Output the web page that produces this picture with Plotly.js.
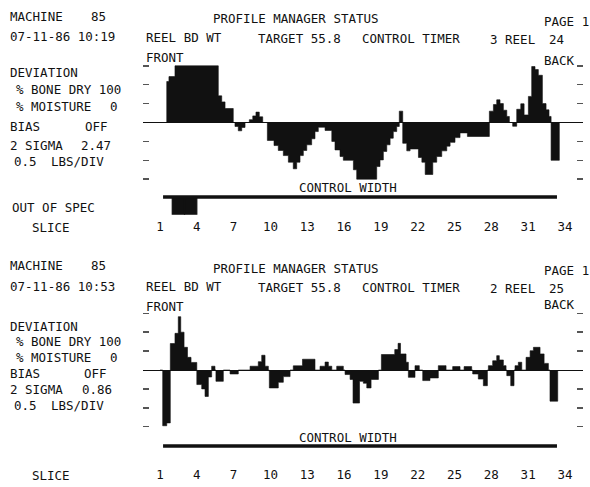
<!DOCTYPE html>
<html><head><meta charset="utf-8">
<script src="https://cdn.plot.ly/plotly-3.0.1.min.js"></script>
<style>html,body{margin:0;padding:0;background:#fff}#chart{width:590px;height:487px}</style>
</head><body><div id="chart"></div><script>
// ---- data (slice positions, deviation in LBS) ----
const topSlices = [1.00,1.55,1.73,2.22,5.75,6.03,6.30,6.97,7.11,7.38,7.66,7.93,8.28,8.56,8.82,9.09,9.37,9.75,10.29,10.64,11.05,11.46,11.86,12.14,12.41,12.68,12.96,13.36,13.63,13.90,14.45,15.00,15.26,15.67,15.94,16.76,17.03,18.66,18.93,19.20,19.48,19.75,20.01,20.29,20.50,20.78,21.11,21.38,22.06,22.34,22.61,23.23,23.55,23.96,24.37,24.64,25.04,25.45,26.05,27.84,28.17,28.44,28.71,28.98,29.26,29.47,29.74,30.07,30.40,30.67,31.02,31.29,31.56,31.83,32.16,32.46,32.70,32.87,33.54];
const topDeviation = [0,1.085,1.215,1.5,0.705,0.545,0.37,0,-0.105,-0.22,-0.13,0,0.075,0.175,0.275,0.15,0,-0.475,-0.61,-0.74,-0.875,-1.05,-1.225,-1.05,-0.875,-0.74,-0.59,-0.43,-0.24,-0.125,-0.21,-0.5,-0.725,-0.9,-1.0,-1.25,-1.5,-1.165,-0.99,-0.765,-0.59,-0.415,-0.24,-0.105,0.3,-0.55,-0.75,-0.7,-0.925,-1.05,-1.375,-1.05,-0.9,-0.75,-0.625,-0.525,-0.4,-0.275,-0.37,0.3,0.475,0.6,0.5,0.325,0.16,0,-0.1,0.35,0.495,0.2,0.69,1.48,1.4,1.25,0.5,0.335,0.16,-1.0,0];
const bottomSlices = [1.00,1.22,1.55,1.84,2.22,2.49,2.69,2.96,3.24,3.53,4.00,4.40,4.67,4.94,5.21,5.48,5.56,6.16,6.71,7.38,8.34,9.01,9.29,9.56,9.83,9.91,10.64,11.05,11.60,11.86,12.61,13.63,14.04,14.45,14.72,15.00,15.40,15.94,16.08,16.49,16.73,17.26,17.57,17.85,18.20,18.80,19.04,20.13,20.40,20.60,21.05,21.24,21.78,22.13,22.41,23.00,23.68,24.31,24.85,25.45,25.78,26.40,26.48,26.94,27.35,27.68,27.76,28.11,28.44,28.65,28.98,29.20,29.26,29.58,29.85,29.93,30.20,30.48,30.83,31.16,31.43,31.97,32.30,32.65,32.78,33.41];
const bottomDeviation = [0,-1.475,-1.4,0.7,0.97,1.41,1.0,0.6,0.335,0.2,-0.385,-0.5,-0.7,-0.185,0.1,0,-0.3,0,-0.105,0,0.1,0.22,0.39,0.1,0,-0.475,-0.325,-0.175,0,0.11,0.285,0,0.1,0.21,0.1,0,0.1,0,-0.12,-0.25,-0.875,-0.3,-0.35,-0.475,-0.25,0,0.41,0.54,0.705,0.425,0.205,-0.195,0.115,0,-0.28,-0.21,0.115,0,0.09,0,0.09,0,-0.105,-0.24,-0.415,0,0.115,0.245,0.38,0.265,0.115,0,-0.15,-0.415,0,0.115,0.205,0,0.335,0.51,0.6,0.425,0.175,0,-0.825,0];
const tickSlices = [1,4,7,10,13,16,19,22,25,28,31,34];
const tickLabels = ["1","4","7","10","13","16","19","22","25","28","31","34"];
const divTicks = [-1.5,-1,-0.5,0.5,1,1.5];
const controlWidth = [1.25, 33.35];
const outOfSpecSlices = [2, 3];
const topInfo = {time:"07-11-86 10:19", reel:"3 REEL", reelNo:"24", sigma:"2.47"};
const bottomInfo = {time:"07-11-86 10:53", reel:"2 REEL", reelNo:"25", sigma:"0.86"};

const W = 590, H = 487;
const FONT = "DejaVu Sans Mono";
const INK = "#111";
const px = v => v / W, py = v => 1 - v / H;
const XR = [-0.385, 35.47];
const XD = [px(143), px(583)];

function profile(x, y, xa, ya){
  return {x, y, xaxis:xa, yaxis:ya, type:'scatter', mode:'lines',
    line:{shape:'hv', color:INK, width:0.6}, fill:'tozeroy', fillcolor:INK, hoverinfo:'skip'};
}
function cw(xa, ya){
  return {x:controlWidth, y:[0,0], xaxis:xa, yaxis:ya, type:'scatter', mode:'lines',
    line:{color:INK, width:3.5}, hoverinfo:'skip'};
}
const traces = [
  profile(topSlices, topDeviation, 'x', 'y'),
  profile(bottomSlices, bottomDeviation, 'x2', 'y2'),
  cw('x3','y3'),
  cw('x4','y4'),
  {type:'bar', x:outOfSpecSlices.map(s => s + 0.5), y:outOfSpecSlices.map(() => -0.95),
   width:1, xaxis:'x3', yaxis:'y3', marker:{color:INK, line:{color:INK, width:1.2}}, hoverinfo:'skip'}
];

function devAxis(top, bottom, base){
  const span = 0.5 / 18.9; // lbs per px
  return {domain:[py(bottom), py(top)], range:[-(bottom-base)*span, (base-top)*span],
    showgrid:false, zeroline:true, zerolinecolor:INK, zerolinewidth:1,
    tickvals:divTicks, ticks:'inside', ticklen:6, tickwidth:1.5, tickcolor:'#555',
    mirror:'ticks', showline:false, showticklabels:false, fixedrange:true};
}
function hiddenX(anchor){
  return {domain:XD, range:XR, anchor, showgrid:false, zeroline:false, showticklabels:false, ticks:'', showline:false};
}
function sliceX(anchor){
  return {domain:XD, range:XR, anchor, showgrid:false, zeroline:false, showline:false, ticks:'',
    tickvals:tickSlices, ticktext:tickLabels, tickfont:{family:FONT, size:12.5, color:INK}};
}
function sliceY(top, bottom, base){
  return {domain:[py(bottom), py(top)], range:[-(bottom-base)/18, (base-top)/18], visible:false};
}

const ann = [];
function t(text, x, y, anchor){
  ann.push({text, x:px(x), y:py(y), xref:'paper', yref:'paper', showarrow:false,
    xanchor:anchor||'left', yanchor:'middle', font:{family:FONT, size:12.5, color:INK}});
}
function header(info, o){
  t("MACHINE", 8, 16+o.a); t("85", 89, 16+o.a);
  t("PROFILE MANAGER STATUS", 211, 19+o.a); t("PAGE 1", 542, 21+o.a);
  t(info.time, 8, 37+o.a); t("REEL BD WT", 144, 37.5+o.a); t("TARGET 55.8", 256, 38+o.a);
  t("CONTROL TIMER", 360, 38.5+o.a); t(info.reel, 488, 39+o.a); t(info.reelNo, 547, 39+o.a);
  t("FRONT", 144, 57.5+o.a); t("BACK", 542, 60+o.a-(o.a?5:0));
}
header(topInfo, {a:0});
t("DEVIATION", 8, 73); t("% BONE DRY 100", 14, 90); t("% MOISTURE", 14, 107); t("0", 108, 107);
t("BIAS", 8, 127); t("OFF", 83, 127); t("2 SIGMA", 8, 145); t(topInfo.sigma, 79, 145);
t("0.5", 12, 162); t("LBS/DIV", 49, 162);
t("CONTROL WIDTH", 348, 187, 'center');
t("OUT OF SPEC", 10, 207); t("SLICE", 30, 227);

header(bottomInfo, {a:249});
t("DEVIATION", 8, 326); t("% BONE DRY 100", 14, 341.5); t("% MOISTURE", 14, 357); t("0", 108, 357);
t("BIAS", 8, 373); t("OFF", 82, 373); t("2 SIGMA", 8, 389); t(bottomInfo.sigma, 80, 389);
t("0.5", 12, 405); t("LBS/DIV", 49, 405);
t("CONTROL WIDTH", 348, 437, 'center');
t("SLICE", 30, 475);

const layout = {
  width:W, height:H, margin:{l:0,r:0,t:0,b:0}, paper_bgcolor:'#fff', plot_bgcolor:'rgba(0,0,0,0)',
  showlegend:false, font:{family:FONT, color:INK}, bargap:0,
  xaxis: hiddenX('y'), yaxis: Object.assign(devAxis(60,185,122.5), {anchor:'x'}),
  xaxis2: hiddenX('y2'), yaxis2: Object.assign(devAxis(308,432,370), {anchor:'x2'}),
  xaxis3: sliceX('y3'), yaxis3: Object.assign(sliceY(190,217,197), {anchor:'x3'}),
  xaxis4: sliceX('y4'), yaxis4: Object.assign(sliceY(439,465,446), {anchor:'x4'}),
  annotations: ann
};
Plotly.newPlot('chart', traces, layout, {staticPlot:true, displayModeBar:false});
</script></body></html>
